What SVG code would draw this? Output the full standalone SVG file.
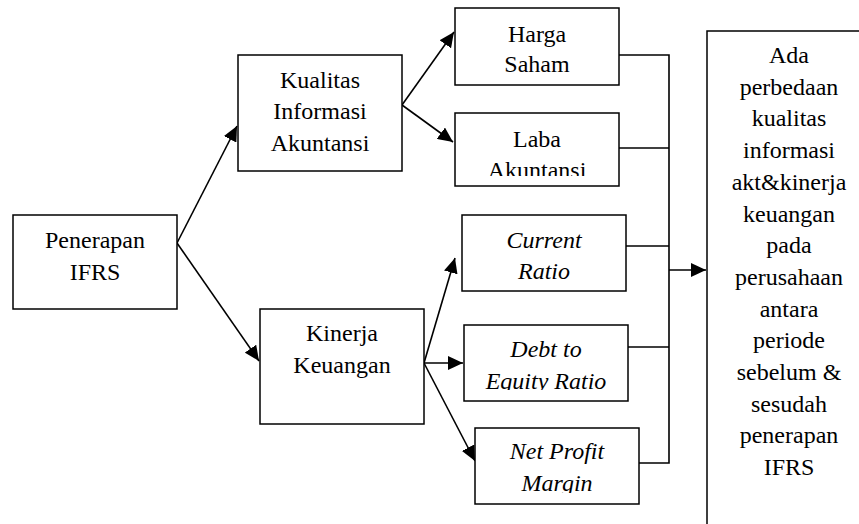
<svg xmlns="http://www.w3.org/2000/svg" width="859" height="524" viewBox="0 0 859 524">
<style>
.box{fill:#fff;stroke:#000;stroke-width:1.5}
.t{font-family:"Liberation Serif","Times New Roman",serif;font-size:24px;fill:#000;text-anchor:middle}
.i{font-style:italic}
.ln{fill:none;stroke:#000;stroke-width:1.6}
</style>
<defs>
<marker id="ah" markerUnits="userSpaceOnUse" markerWidth="15" markerHeight="14" refX="15" refY="7" orient="auto" viewBox="0 0 15 14">
<path d="M0,0 L15,7 L0,14 z" fill="#000"/>
</marker>
<clipPath id="cLaba"><rect x="455" y="113" width="164" height="63"/></clipPath>
<clipPath id="cDebt"><rect x="464" y="325" width="164" height="65"/></clipPath>
<clipPath id="cNet"><rect x="475" y="428" width="164" height="65"/></clipPath>
</defs>
<rect width="859" height="524" fill="#fff"/>
<g id="connectors">
<line class="ln" x1="177" y1="243" x2="237" y2="126" marker-end="url(#ah)"/>
<line class="ln" x1="177" y1="243" x2="259" y2="361" marker-end="url(#ah)"/>
<line class="ln" x1="402" y1="105" x2="454" y2="32" marker-end="url(#ah)"/>
<line class="ln" x1="402" y1="105" x2="453" y2="142" marker-end="url(#ah)"/>
<line class="ln" x1="424" y1="363" x2="455" y2="258" marker-end="url(#ah)"/>
<line class="ln" x1="424" y1="363" x2="463" y2="363" marker-end="url(#ah)"/>
<line class="ln" x1="424" y1="363" x2="475" y2="461" marker-end="url(#ah)"/>
<polyline class="ln" points="619,55 669,55 669,463 639,463"/>
<line class="ln" x1="619" y1="148" x2="669" y2="148"/>
<line class="ln" x1="626" y1="246" x2="669" y2="246"/>
<line class="ln" x1="628" y1="347" x2="669" y2="347"/>
<line class="ln" x1="669" y1="270" x2="706" y2="270" marker-end="url(#ah)"/>
</g>
<g id="penerapan">
<rect class="box" x="13" y="215" width="164" height="94"/>
<text class="t" x="95" y="248">Penerapan</text>
<text class="t" x="95" y="280">IFRS</text>
</g>
<g id="kualitas">
<rect class="box" x="238" y="55" width="164" height="116"/>
<text class="t" x="320" y="88">Kualitas</text>
<text class="t" x="320" y="119">Informasi</text>
<text class="t" x="320" y="151">Akuntansi</text>
</g>
<g id="kinerja">
<rect class="box" x="260" y="309" width="164" height="115"/>
<text class="t" x="342" y="341">Kinerja</text>
<text class="t" x="342" y="373">Keuangan</text>
</g>
<g id="harga">
<rect class="box" x="455" y="8" width="164" height="77"/>
<text class="t" x="537" y="42">Harga</text>
<text class="t" x="537" y="72">Saham</text>
</g>
<g id="laba">
<rect class="box" x="455" y="113" width="164" height="73"/>
<g clip-path="url(#cLaba)">
<text class="t" x="537" y="147">Laba</text>
<text class="t" x="537" y="178">Akuntansi</text>
</g>
</g>
<g id="current">
<rect class="box" x="462" y="215" width="164" height="76"/>
<text class="t i" x="544" y="248">Current</text>
<text class="t i" x="544" y="279">Ratio</text>
</g>
<g id="debt">
<rect class="box" x="464" y="325" width="164" height="76"/>
<g clip-path="url(#cDebt)">
<text class="t i" x="546" y="357">Debt to</text>
<text class="t i" x="546" y="389">Equity Ratio</text>
</g>
</g>
<g id="npm">
<rect class="box" x="475" y="428" width="164" height="76"/>
<g clip-path="url(#cNet)">
<text class="t i" x="557" y="459">Net Profit</text>
<text class="t i" x="557" y="491">Margin</text>
</g>
</g>
<g id="hasil">
<rect class="box" x="707" y="31" width="170" height="510"/>
<text class="t" x="789" y="63">Ada</text>
<text class="t" x="789" y="94.7">perbedaan</text>
<text class="t" x="789" y="126.4">kualitas</text>
<text class="t" x="789" y="158.1">informasi</text>
<text class="t" x="789" y="189.8">akt&amp;kinerja</text>
<text class="t" x="789" y="221.5">keuangan</text>
<text class="t" x="789" y="253.2">pada</text>
<text class="t" x="789" y="284.9">perusahaan</text>
<text class="t" x="789" y="316.6">antara</text>
<text class="t" x="789" y="348.3">periode</text>
<text class="t" x="789" y="380">sebelum &amp;</text>
<text class="t" x="789" y="411.7">sesudah</text>
<text class="t" x="789" y="443.4">penerapan</text>
<text class="t" x="789" y="475.1">IFRS</text>
</g>
</svg>
